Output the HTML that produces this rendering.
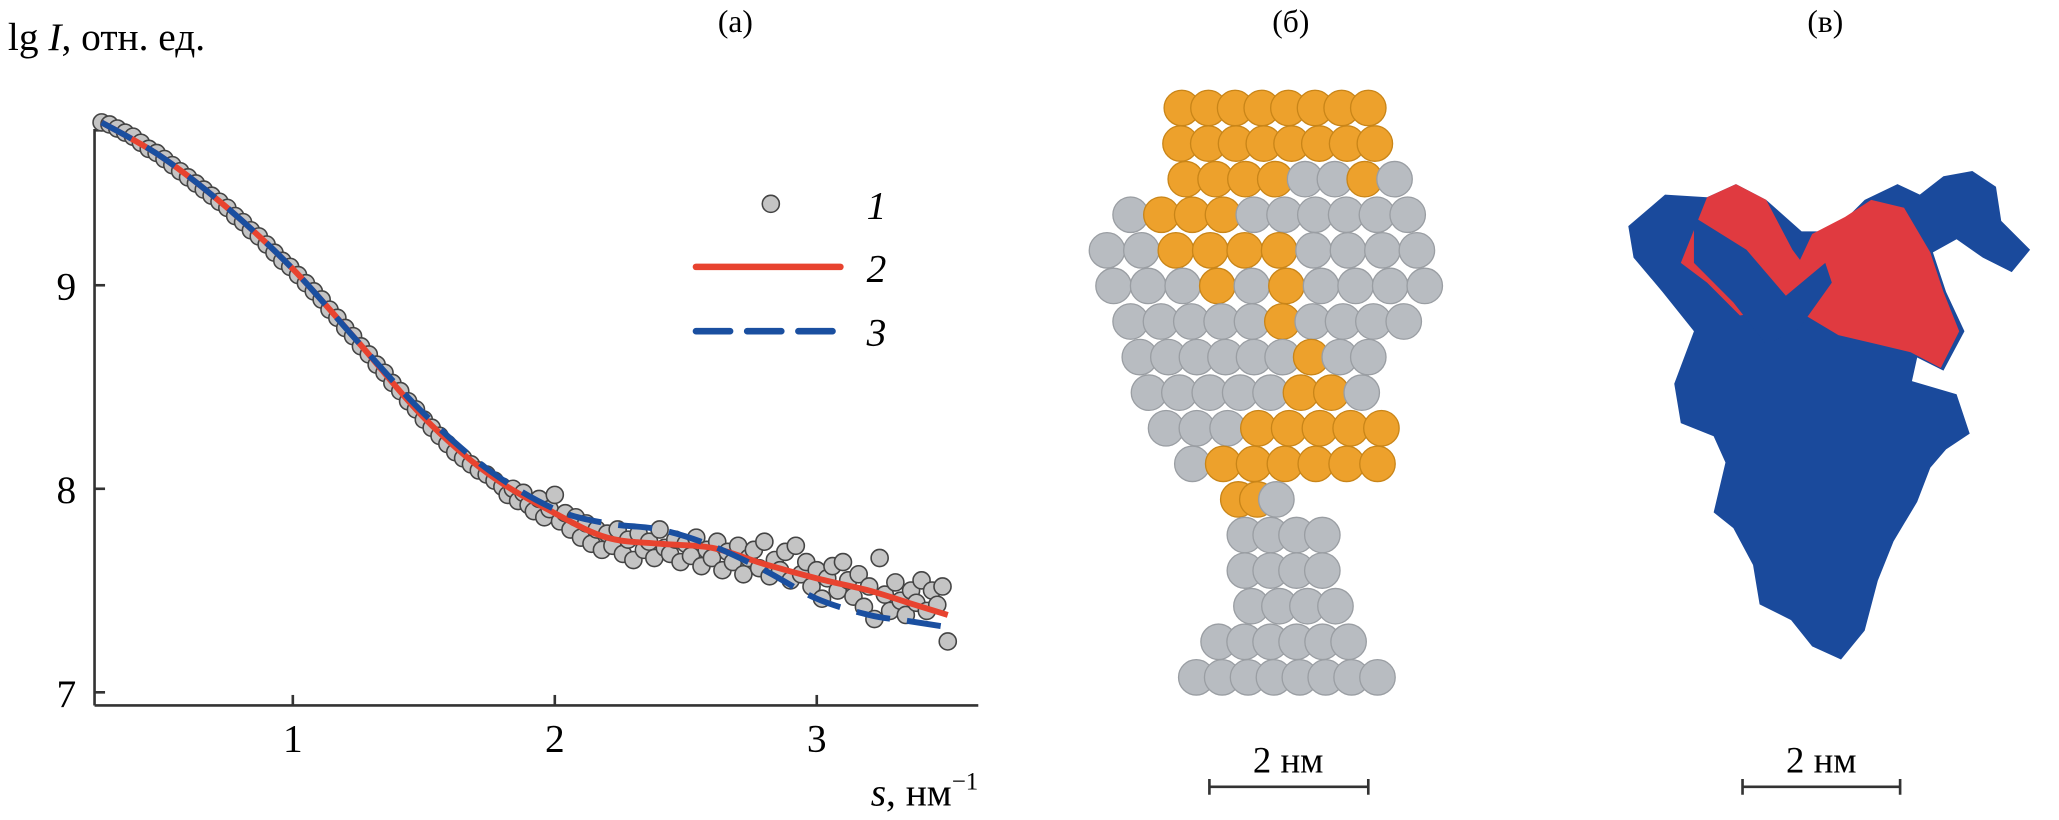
<!DOCTYPE html>
<html><head><meta charset="utf-8"><style>
html,body{margin:0;padding:0;background:#fff;}
svg{display:block;font-family:"Liberation Serif",serif;}
</style></head><body>
<svg id="fig" width="2059" height="820" viewBox="0 0 1568 624">
<text x="560" y="24" font-size="24" text-anchor="middle">(а)</text>
<text x="983" y="24" font-size="24" text-anchor="middle">(б)</text>
<text x="1390" y="24" font-size="24" text-anchor="middle">(в)</text>
<text x="6" y="38" font-size="30">lg <tspan font-style="italic">I</tspan>, отн. ед.</text>
<text x="745" y="613" font-size="30" text-anchor="end"><tspan font-style="italic">s</tspan>, нм<tspan dy="-12" font-size="19">−1</tspan></text>
<g id="axes"></g>
<g id="points"></g>
<g id="lines"></g>
<g id="legend">
 <circle cx="587" cy="155" r="6.5" fill="#c4c4c4" stroke="#444" stroke-width="1.2"/>
 <text x="660" y="166" font-size="30" font-style="italic">1</text>
 <line x1="530" y1="203" x2="640" y2="203" stroke="#e8432f" stroke-width="5" stroke-linecap="round"/>
 <text x="660" y="214" font-size="30" font-style="italic">2</text>
 <line x1="530" y1="252" x2="640" y2="252" stroke="#1a4fa0" stroke-width="5" stroke-dasharray="26,13" stroke-linecap="round"/>
 <text x="660" y="263" font-size="30" font-style="italic">3</text>
</g>
<g id="panelb"></g>
<g id="panelc">
 <polygon points="1240,172 1268,148 1300,150 1322,140 1345,152 1372,176 1396,176 1420,152 1445,140 1462,148 1480,134 1502,130 1520,142 1524,168 1546,190 1532,207 1510,196 1490,182 1472,192 1482,222 1496,252 1480,282 1460,272 1456,290 1490,300 1500,330 1482,342 1470,356 1460,382 1442,412 1430,442 1420,480 1402,502 1380,492 1364,472 1340,460 1335,430 1320,402 1305,390 1314,352 1305,332 1280,322 1275,292 1290,252 1266,222 1244,196" fill="#1a4a9c"/>
 <polygon points="1300,150 1322,140 1345,152 1365,190 1380,210 1355,235 1325,240 1300,215 1280,200" fill="#e03a40"/>
 <polygon points="1380,178 1405,165 1425,152 1450,158 1470,192 1480,222 1492,252 1478,280 1455,268 1430,262 1400,255 1375,240 1365,210" fill="#e03a40"/>
 <polygon points="1290,165 1330,190 1360,225 1390,200 1395,215 1370,250 1345,262 1320,230 1290,200" fill="#1a4a9c"/>
</g>
<g>
 <text x="981" y="588" font-size="28" text-anchor="middle">2 нм</text>
 <line x1="921" y1="599" x2="1042" y2="599" stroke="#333" stroke-width="2"/>
 <line x1="921" y1="593" x2="921" y2="605" stroke="#333" stroke-width="2"/>
 <line x1="1042" y1="593" x2="1042" y2="605" stroke="#333" stroke-width="2"/>
</g>
<g>
 <text x="1387" y="588" font-size="28" text-anchor="middle">2 нм</text>
 <line x1="1327" y1="599" x2="1447" y2="599" stroke="#333" stroke-width="2"/>
 <line x1="1327" y1="593" x2="1327" y2="605" stroke="#333" stroke-width="2"/>
 <line x1="1447" y1="593" x2="1447" y2="605" stroke="#333" stroke-width="2"/>
</g>
</svg>
<script>
const xTicks=[1,2,3];
const yTicks=[7,8,9];
const scatterS=[0.27,0.30,0.33,0.36,0.39,0.42,0.45,0.48,0.51,0.54,0.57,0.60,0.63,0.66,0.69,0.72,0.75,0.78,0.81,0.84,0.87,0.90,0.93,0.96,0.99,1.02,1.05,1.08,1.11,1.14,1.17,1.20,1.23,1.26,1.29,1.32,1.35,1.38,1.41,1.44,1.47,1.50,1.53,1.56,1.59,1.62,1.65,1.68,1.71,1.74,1.77,1.80,
1.82,1.84,1.86,1.88,1.90,1.92,1.94,1.96,1.98,2.00,2.02,2.04,2.06,2.08,2.10,2.12,2.14,2.16,2.18,2.20,2.22,2.24,2.26,2.28,2.30,2.32,2.34,2.36,2.38,2.40,2.42,2.44,2.46,2.48,2.50,2.52,2.54,2.56,2.58,2.60,2.62,2.64,2.66,2.68,2.70,2.72,2.74,2.76,2.78,2.80,2.82,2.84,2.86,2.88,2.90,2.92,2.94,2.96,2.98,3.00,3.02,3.04,3.06,3.08,3.10,3.12,3.14,3.16,3.18,3.20,3.22,3.24,3.26,3.28,3.30,3.32,3.34,3.36,3.38,3.40,3.42,3.44,3.46,3.48,3.50];
const scatterI=[9.80,9.79,9.77,9.75,9.73,9.70,9.67,9.65,9.62,9.59,9.56,9.53,9.50,9.47,9.44,9.41,9.38,9.34,9.31,9.27,9.24,9.20,9.16,9.12,9.09,9.05,9.01,8.97,8.93,8.88,8.84,8.79,8.75,8.70,8.66,8.61,8.57,8.52,8.48,8.43,8.39,8.34,8.30,8.26,8.22,8.18,8.15,8.12,8.09,8.07,8.04,8.01,
7.97,8.00,7.94,7.98,7.92,7.89,7.95,7.86,7.90,7.97,7.84,7.88,7.80,7.86,7.76,7.83,7.73,7.80,7.70,7.78,7.72,7.80,7.68,7.75,7.65,7.78,7.70,7.74,7.66,7.80,7.71,7.68,7.75,7.64,7.73,7.67,7.76,7.62,7.70,7.66,7.74,7.60,7.69,7.64,7.72,7.58,7.66,7.70,7.61,7.74,7.57,7.65,7.60,7.69,7.55,7.72,7.58,7.64,7.52,7.60,7.46,7.56,7.62,7.50,7.64,7.55,7.47,7.58,7.42,7.52,7.36,7.66,7.48,7.40,7.54,7.45,7.38,7.50,7.44,7.55,7.40,7.50,7.43,7.52,7.25];
const fitS=[0.27,0.5,0.75,1.0,1.25,1.5,1.75,2.0,2.2,2.4,2.6,2.8,3.0,3.2,3.35,3.5];
const fit2I=[9.80,9.63,9.38,9.08,8.72,8.35,8.07,7.88,7.76,7.73,7.71,7.63,7.56,7.50,7.44,7.38];
const fit3I=[9.80,9.63,9.38,9.08,8.72,8.37,8.09,7.90,7.83,7.80,7.72,7.60,7.46,7.38,7.35,7.32];
const NS='http://www.w3.org/2000/svg';
const X=s=>23.5+199.5*s, Y=v=>527-155*(v-7);
function mk(t,a,p){const e=document.createElementNS(NS,t);for(const k in a)e.setAttribute(k,a[k]);p.appendChild(e);return e;}
const ax=document.getElementById('axes');
let yl=mk('line',{x1:72,y1:98,x2:72,y2:537,stroke:'#333','stroke-width':2},ax);


let xl=mk('line',{x1:72,y1:537,x2:745,y2:537,stroke:'#333','stroke-width':2},ax);


mk('line',{x1:72,y1:99,x2:80,y2:99,stroke:'#333','stroke-width':2},ax);
xTicks.forEach(t=>{mk('line',{x1:X(t),y1:537,x2:X(t),y2:529,stroke:'#333','stroke-width':2},ax);
 const tx=mk('text',{x:X(t),y:572,'font-size':30,'text-anchor':'middle'},ax);tx.textContent=t;
 
 });
yTicks.forEach(t=>{mk('line',{x1:72,y1:Y(t),x2:80,y2:Y(t),stroke:'#333','stroke-width':2},ax);
 const tx=mk('text',{x:58,y:Y(t)+11,'font-size':30,'text-anchor':'end'},ax);tx.textContent=t;
 
 });
const pg=document.getElementById('points');
scatterS.forEach((s,i)=>{const c=mk('circle',{cx:X(s),cy:Y(scatterI[i]),r:6.5,fill:'#c4c4c4',stroke:'#444','stroke-width':1.2},pg);
 
 });
function path(arr){
 const p=fitS.map((s,i)=>[X(s),Y(arr[i])]);let d='M'+p[0];
 for(let i=0;i<p.length-1;i++){const a=p[i-1]||p[i],b=p[i],c=p[i+1],e=p[i+2]||c;
  d+=' C'+(b[0]+(c[0]-a[0])/6)+','+(b[1]+(c[1]-a[1])/6)+' '+(c[0]-(e[0]-b[0])/6)+','+(c[1]-(e[1]-b[1])/6)+' '+c;}
 return d;}
const lg=document.getElementById('lines');
const l2=mk('path',{d:path(fit2I),fill:'none',stroke:'#e8432f','stroke-width':4.5},lg);


const l3=mk('path',{d:path(fit3I),fill:'none',stroke:'#1a4fa0','stroke-width':4.5,'stroke-dasharray':'26,13'},lg);


const rows=[[887,1055,'OOOOOOOO'],[886,1060,'OOOOOOOO'],[890,1075,'OOOOGGOG'],[848,1085,'GOOOGGGGGG'],[830,1092,'GGOOOOGGGG'],[835,1098,'GGGOGOGGGG'],[848,1082,'GGGGGOGGGG'],[855,1055,'GGGGGGOGG'],[862,1050,'GGGGGOOG'],[875,1065,'GGGOOOOO'],[895,1062,'GOOOOOO'],[930,985,'OOG'],[935,1020,'GGGG'],[935,1020,'GGGG'],[940,1030,'GGGG'],[915,1040,'GGGGGG'],[898,1062,'GGGGGGGG']];
const pb=document.getElementById('panelb');
rows.forEach((r,i)=>{const y=82+i*27.1,n=r[2].length,st=(r[1]-r[0]-26)/(n-1);
 for(let j=0;j<n;j++){const o=r[2][j]==='O';
  const c=mk('circle',{cx:r[0]+13+j*st,cy:y,r:13.5,fill:o?'#eda12c':'#b8bcc1',stroke:o?'#c98518':'#9a9ea3','stroke-width':1},pb);
  
  }});
</script>
</body></html>
